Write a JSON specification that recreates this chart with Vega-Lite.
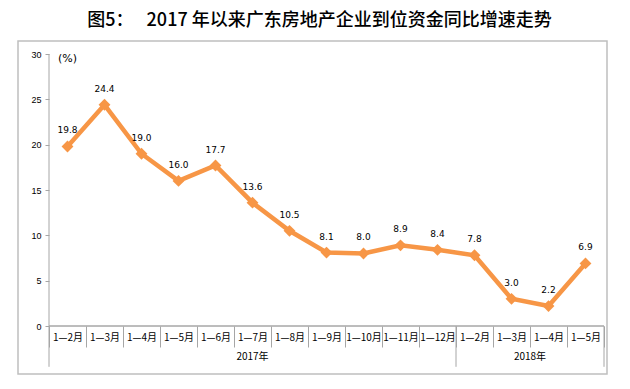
{
  "$schema": "https://vega.github.io/schema/vega-lite/v6.json",
  "width": 589,
  "height": 333,
  "autosize": "none",
  "padding": {"left": 18, "top": 41, "right": 23, "bottom": 15},
  "background": "white",
  "title": {
    "text": "图5：　   2017 年以来广东房地产企业到位资金同比增速走势",
    "font": "Noto Sans CJK SC",
    "fontSize": 18,
    "fontWeight": 500,
    "color": "#000000",
    "offset": 11,
    "dx": 7,
    "anchor": "middle"
  },
  "config": {
    "view": {"stroke": "#bfbfbf", "strokeWidth": 1.5}
  },
  "data": {
    "values": [
      {"key": "2017|1—2月", "v": 19.8},
      {"key": "2017|1—3月", "v": 24.4},
      {"key": "2017|1—4月", "v": 19.0},
      {"key": "2017|1—5月", "v": 16.0},
      {"key": "2017|1—6月", "v": 17.7},
      {"key": "2017|1—7月", "v": 13.6},
      {"key": "2017|1—8月", "v": 10.5},
      {"key": "2017|1—9月", "v": 8.1},
      {"key": "2017|1—10月", "v": 8.0},
      {"key": "2017|1—11月", "v": 8.9},
      {"key": "2017|1—12月", "v": 8.4},
      {"key": "2018|1—2月", "v": 7.8},
      {"key": "2018|1—3月", "v": 3.0},
      {"key": "2018|1—4月", "v": 2.2},
      {"key": "2018|1—5月", "v": 6.9}
    ]
  },
  "layer": [
    {
      "mark": {"type": "rect", "fill": null, "stroke": "#a6a6a6", "strokeWidth": 1},
      "encoding": {
        "x": {
          "field": "key",
          "type": "nominal",
          "scale": {
            "domain": ["2017|1—2月", "2017|1—3月", "2017|1—4月", "2017|1—5月", "2017|1—6月", "2017|1—7月", "2017|1—8月", "2017|1—9月", "2017|1—10月", "2017|1—11月", "2017|1—12月", "2018|1—2月", "2018|1—3月", "2018|1—4月", "2018|1—5月"],
            "paddingInner": 0,
            "paddingOuter": 0.4595,
            "align": 0.9118
          },
          "axis": {
            "title": null,
            "orient": "bottom",
            "offset": -48,
            "domain": false,
            "tickBand": "extent",
            "tickSize": 21,
            "tickColor": "#a6a6a6",
            "labelExpr": "split(datum.value, '|')[1]",
            "labelAngle": 0,
            "labelFont": "Noto Sans CJK SC",
            "labelFontSize": 10,
            "labelColor": "#000000",
            "labelBaseline": "middle",
            "labelPadding": -10
          }
        },
        "y": {
          "datum": 0,
          "type": "quantitative",
          "scale": {"domain": [-5.294, 31.434], "nice": false, "zero": false},
          "axis": {
            "title": null,
            "values": [0, 5, 10, 15, 20, 25, 30],
            "offset": -31,
            "domain": false,
            "grid": false,
            "tickSize": 4,
            "tickColor": "#a6a6a6",
            "labelFont": "Liberation Sans",
            "labelFontSize": 9,
            "labelColor": "#000000",
            "labelPadding": 4
          }
        },
        "y2": {"datum": 0}
      }
    },
    {
      "data": {"values": [{}]},
      "mark": {"type": "rule", "stroke": "#a6a6a6", "strokeWidth": 1},
      "encoding": {
        "x": {"datum": "2017|1—2月", "bandPosition": 0},
        "y": {"datum": 30},
        "y2": {"datum": -4.5}
      }
    },
    {
      "data": {"values": [{}]},
      "mark": {"type": "rule", "stroke": "#a6a6a6", "strokeWidth": 1},
      "encoding": {
        "x": {"datum": "2018|1—2月", "bandPosition": 0},
        "y": {"datum": 0},
        "y2": {"datum": -4.5}
      }
    },
    {
      "data": {"values": [{}]},
      "mark": {"type": "rule", "stroke": "#a6a6a6", "strokeWidth": 1},
      "encoding": {
        "x": {"datum": "2018|1—5月", "bandPosition": 1},
        "y": {"datum": 0},
        "y2": {"datum": -4.5}
      }
    },
    {
      "mark": {"type": "line", "color": "#F79646", "strokeWidth": 4.5, "strokeJoin": "miter"},
      "encoding": {
        "x": {"field": "key", "type": "nominal"},
        "y": {"field": "v", "type": "quantitative"}
      }
    },
    {
      "mark": {"type": "point", "shape": "diamond", "filled": true, "size": 140, "color": "#F79646", "opacity": 1},
      "encoding": {
        "x": {"field": "key", "type": "nominal"},
        "y": {"field": "v", "type": "quantitative"}
      }
    },
    {
      "mark": {"type": "text", "dy": -16, "font": "DejaVu Sans", "fontSize": 9, "color": "#000000", "baseline": "middle"},
      "encoding": {
        "x": {"field": "key", "type": "nominal"},
        "y": {"field": "v", "type": "quantitative"},
        "text": {"field": "v", "type": "quantitative", "format": ".1f"}
      }
    },
    {
      "data": {"values": [{"label": "2017年"}]},
      "mark": {"type": "text", "font": "Noto Sans CJK SC", "fontSize": 10, "color": "#000000", "baseline": "middle"},
      "encoding": {
        "x": {"datum": "2017|1—7月", "bandPosition": 0.5},
        "y": {"datum": -3.4},
        "text": {"field": "label"}
      }
    },
    {
      "data": {"values": [{"label": "2018年"}]},
      "mark": {"type": "text", "font": "Noto Sans CJK SC", "fontSize": 10, "color": "#000000", "baseline": "middle"},
      "encoding": {
        "x": {"datum": "2018|1—4月", "bandPosition": 0},
        "y": {"datum": -3.4},
        "text": {"field": "label"}
      }
    },
    {
      "data": {"values": [{"label": "(%)"}]},
      "mark": {"type": "text", "font": "DejaVu Sans", "fontSize": 11, "color": "#000000", "baseline": "middle"},
      "encoding": {
        "x": {"datum": "2017|1—2月", "bandPosition": 0.5},
        "y": {"datum": 29.4},
        "text": {"field": "label"}
      }
    }
  ]
}
